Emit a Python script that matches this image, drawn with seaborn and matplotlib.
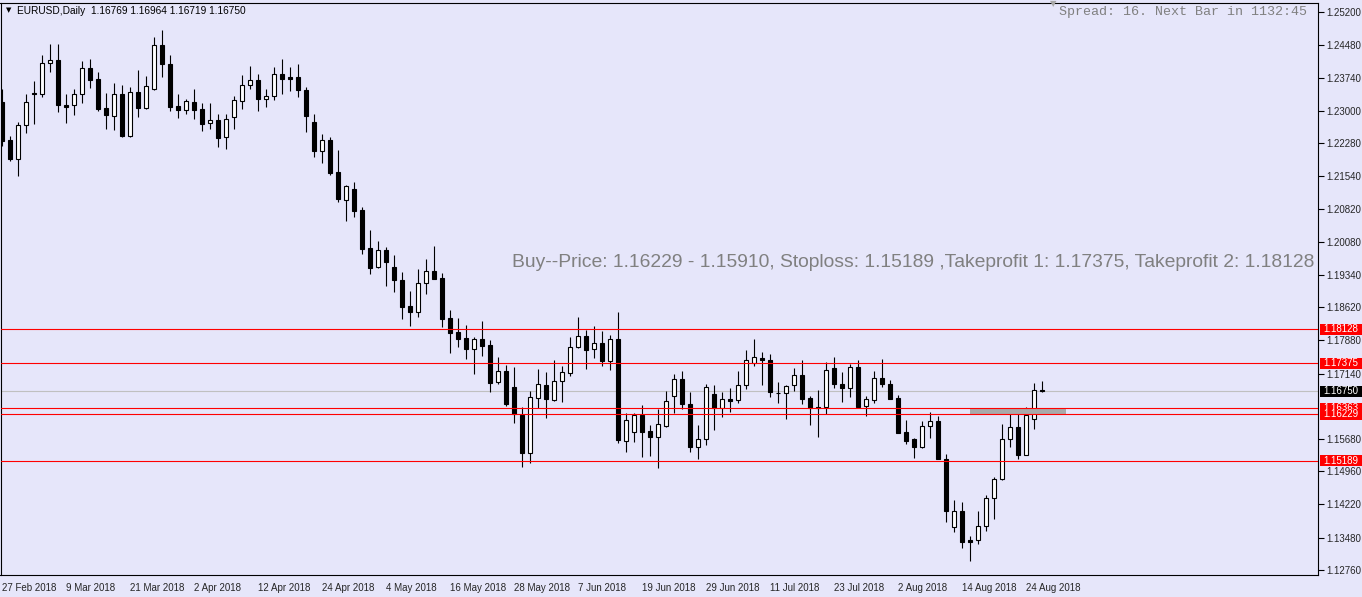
import numpy as np
import pandas as pd
import matplotlib
matplotlib.use("Agg")
from matplotlib import pyplot as plt
from matplotlib.patches import Rectangle
import matplotlib.transforms as mtransforms
import seaborn as sns

# EURUSD daily candles, 27 Feb 2018 - 28 Aug 2018
dates = pd.bdate_range("2018-02-27", "2018-08-28")

opens = [1.23208, 1.22353, 1.21936, 1.22681, 1.23402, 1.23373, 1.24065, 1.24132, 1.23128, 1.23128,
         1.23380, 1.23954, 1.23708, 1.23061, 1.22896, 1.23373, 1.22449, 1.23418, 1.23074, 1.23485,
         1.24467, 1.24043, 1.23105, 1.23016, 1.23201, 1.23038, 1.22726, 1.22800, 1.22414, 1.22860,
         1.23217, 1.23574, 1.23686, 1.23275, 1.23329, 1.23820, 1.23753, 1.23753, 1.23469, 1.22755,
         1.22103, 1.22353, 1.21639, 1.21021, 1.21260, 1.20791, 1.19943, 1.19512, 1.19891, 1.19512,
         1.19228, 1.18641, 1.18508, 1.19155, 1.19423, 1.19266, 1.18374, 1.18068, 1.17941, 1.17695,
         1.17905, 1.17778, 1.16945, 1.17197, 1.16834, 1.16215, 1.15374, 1.16601, 1.16878, 1.16543,
         1.16967, 1.17146, 1.17726, 1.17972, 1.17682, 1.17816, 1.17427, 1.17905, 1.15628, 1.15843,
         1.16209, 1.15851, 1.15718, 1.15963, 1.16633, 1.17012, 1.16454, 1.15494, 1.15673, 1.16677,
         1.16365, 1.16566, 1.16543, 1.16878, 1.17369, 1.17487, 1.17436, 1.16713, 1.16706, 1.16878,
         1.17101, 1.16588, 1.16387, 1.16387, 1.17257, 1.16900, 1.16811, 1.17280, 1.16409, 1.16543,
         1.17034, 1.16900, 1.16588, 1.15829, 1.15680, 1.15508, 1.15963, 1.16075, 1.15226, 1.13709,
         1.14073, 1.13425, 1.13419, 1.13731, 1.14356, 1.14780, 1.15673, 1.15941, 1.15329, 1.16133,
         1.16769]

highs = [1.23492, 1.22443, 1.22755, 1.23380, 1.23670, 1.24250, 1.24496, 1.24496, 1.23380, 1.23492,
         1.24110, 1.24154, 1.23864, 1.23402, 1.23625, 1.23574, 1.23530, 1.23909, 1.23775, 1.24645,
         1.24808, 1.24244, 1.23373, 1.23275, 1.23485, 1.23172, 1.23172, 1.22927, 1.22927, 1.23335,
         1.23804, 1.24005, 1.23826, 1.23485, 1.23989, 1.24154, 1.23989, 1.24050, 1.23543, 1.22929,
         1.22483, 1.22414, 1.22130, 1.21342, 1.21416, 1.20851, 1.20344, 1.20099, 1.19958, 1.19786,
         1.19407, 1.18983, 1.19467, 1.19690, 1.19987, 1.19378, 1.18559, 1.18374, 1.18224, 1.17963,
         1.18313, 1.17889, 1.17510, 1.17331, 1.17287, 1.16394, 1.16751, 1.17242, 1.17175, 1.17443,
         1.17309, 1.17963, 1.18403, 1.18119, 1.18202, 1.18083, 1.18008, 1.18514, 1.16253, 1.16253,
         1.16432, 1.15985, 1.16342, 1.16758, 1.17130, 1.17204, 1.16729, 1.15985, 1.16907, 1.16885,
         1.16729, 1.16811, 1.17197, 1.17659, 1.17912, 1.17621, 1.17577, 1.16958, 1.16878, 1.17257,
         1.17436, 1.16639, 1.16767, 1.17392, 1.17510, 1.17168, 1.17360, 1.17436, 1.16633, 1.17197,
         1.17465, 1.16990, 1.16662, 1.16104, 1.15695, 1.16081, 1.16276, 1.16193, 1.15338, 1.14311,
         1.14273, 1.13515, 1.14066, 1.14430, 1.14838, 1.16014, 1.16231, 1.16238, 1.16387, 1.16923,
         1.16964]

lows = [1.22219, 1.21891, 1.21550, 1.22516, 1.22704, 1.23306, 1.23878, 1.22985, 1.22739, 1.22911,
        1.23172, 1.23507, 1.23007, 1.22605, 1.22576, 1.22414, 1.22427, 1.22873, 1.23038, 1.23480,
        1.23753, 1.23007, 1.22851, 1.22927, 1.22829, 1.22561, 1.22592, 1.22204, 1.22159, 1.22605,
        1.23052, 1.23492, 1.23007, 1.23083, 1.23253, 1.23387, 1.23440, 1.23306, 1.22521, 1.21981,
        1.21829, 1.21583, 1.20976, 1.20552, 1.20641, 1.19815, 1.19369, 1.19490, 1.19101, 1.18967,
        1.18365, 1.18208, 1.18409, 1.18909, 1.19250, 1.18186, 1.17606, 1.17740, 1.17465, 1.17137,
        1.17539, 1.16735, 1.16900, 1.16416, 1.16043, 1.15061, 1.15150, 1.16378, 1.16155, 1.16535,
        1.16512, 1.17092, 1.17720, 1.17249, 1.17494, 1.17316, 1.17226, 1.15597, 1.15396, 1.15619,
        1.15285, 1.15307, 1.15039, 1.15954, 1.16267, 1.16342, 1.15383, 1.15240, 1.15552, 1.15880,
        1.16177, 1.16289, 1.16476, 1.16789, 1.17316, 1.16891, 1.16624, 1.16476, 1.16119, 1.16744,
        1.16467, 1.15999, 1.15718, 1.16238, 1.16825, 1.16512, 1.16624, 1.16387, 1.16186, 1.16476,
        1.16834, 1.16566, 1.15807, 1.15579, 1.15262, 1.15472, 1.15709, 1.15226, 1.13834, 1.13610,
        1.13253, 1.12963, 1.13329, 1.13633, 1.13901, 1.14775, 1.15508, 1.15240, 1.15316, 1.15903,
        1.16719]

closes = [1.22338, 1.21936, 1.22681, 1.23201, 1.23373, 1.24065, 1.24132, 1.23128, 1.23097, 1.23380,
          1.23954, 1.23692, 1.23052, 1.22918, 1.23373, 1.22449, 1.23418, 1.23074, 1.23552, 1.24467,
          1.24043, 1.23097, 1.23030, 1.23217, 1.23030, 1.22717, 1.22800, 1.22405, 1.22829, 1.23239,
          1.23574, 1.23686, 1.23275, 1.23329, 1.23820, 1.23721, 1.23721, 1.23476, 1.22896, 1.22101,
          1.22353, 1.21617, 1.21043, 1.21320, 1.20775, 1.19927, 1.19503, 1.19891, 1.19624, 1.19222,
          1.18633, 1.18508, 1.19155, 1.19423, 1.19257, 1.18369, 1.18052, 1.17918, 1.17695, 1.17905,
          1.17762, 1.16936, 1.17197, 1.16461, 1.16238, 1.15374, 1.16617, 1.16900, 1.16579, 1.16967,
          1.17175, 1.17726, 1.17972, 1.17673, 1.17816, 1.17427, 1.17905, 1.15664, 1.16097, 1.16209,
          1.15843, 1.15713, 1.16008, 1.16521, 1.17012, 1.16454, 1.15508, 1.15673, 1.16834, 1.16365,
          1.16566, 1.16534, 1.16878, 1.17436, 1.17503, 1.17436, 1.16722, 1.16700, 1.16856, 1.17101,
          1.16579, 1.16371, 1.16371, 1.17213, 1.16900, 1.16825, 1.17280, 1.16400, 1.16566, 1.17034,
          1.16900, 1.16579, 1.15820, 1.15646, 1.15508, 1.15963, 1.16075, 1.15240, 1.14079, 1.14073,
          1.13387, 1.13387, 1.13738, 1.14363, 1.14787, 1.15673, 1.15941, 1.15329, 1.16209, 1.16767,
          1.16750]

date_labels = ["27 Feb 2018", "9 Mar 2018", "21 Mar 2018", "2 Apr 2018", "12 Apr 2018",
               "24 Apr 2018", "4 May 2018", "16 May 2018", "28 May 2018", "7 Jun 2018",
               "19 Jun 2018", "29 Jun 2018", "11 Jul 2018", "23 Jul 2018", "2 Aug 2018",
               "14 Aug 2018", "24 Aug 2018"]
price_ticks = [1.25200, 1.24480, 1.23740, 1.23000, 1.22280, 1.21540, 1.20820, 1.20080, 1.19340,
               1.18620, 1.17880, 1.17140, 1.15680, 1.14960, 1.14220, 1.13480, 1.12760]

# trade levels drawn on the chart
level_prices = [1.18128, 1.17375, 1.16363, 1.16229, 1.15189]
bid_price = 1.16750
zone_low, zone_high = 1.16231, 1.16349
zone_from, zone_to = 121, 133

df = pd.DataFrame({"date": dates, "open": opens, "high": highs, "low": lows, "close": closes})
df["x"] = np.arange(len(df))
df["up"] = df["close"] >= df["open"]

BG = "#E6E6FA"
sns.set_theme(style="white", rc={"axes.facecolor": BG, "figure.facecolor": BG,
                                 "axes.edgecolor": "black", "axes.linewidth": 0.8})
plt.rcParams["font.family"] = ["Liberation Sans", "DejaVu Sans"]

W, H = 1362, 597
fig = plt.figure(figsize=(W / 100, H / 100), dpi=100)
ax = fig.add_axes([0.5 / W, 22 / H, 1317.5 / W, 572 / H])

# bid line behind everything
ax.axhline(bid_price, color="#C0C0C0", lw=0.8, zorder=1)

# wicks and bodies
ax.vlines(df["x"], df["low"], df["high"], color="black", lw=0.8, zorder=2)
body_bottom = df[["open", "close"]].min(axis=1)
body_height = (df["close"] - df["open"]).abs()
ax.bar(df["x"], body_height, bottom=body_bottom, width=0.56,
       color=np.where(df["up"], "white", "black"), edgecolor="black", linewidth=0.8, zorder=3)

# zone and levels
ax.fill_between([zone_from, zone_to], zone_low, zone_high, color="#A9A9A9", lw=0, zorder=4)
for lv in level_prices:
    ax.axhline(lv, color="red", lw=0.8, zorder=5)

ax.set_xlim(-0.19, 164.5)
ax.set_ylim(1.12644, 1.25411)

ax.set_xticks(df["x"][::8])
ax.set_xticklabels(date_labels, fontsize=7, ha="left")
ax.yaxis.tick_right()
ax.set_yticks(price_ticks)
ax.set_yticklabels([f"{t:.5f}" for t in price_ticks], fontsize=7)
ax.tick_params(axis="both", direction="out", length=4, width=0.8, color="black", pad=2)
ax.tick_params(axis="x", pad=1.5)
for s in ax.spines.values():
    s.set_color("black")
    s.set_linewidth(0.8)

# price labels in the right scale, each one stacked over the previous
trans = mtransforms.blended_transform_factory(ax.transAxes, ax.transData)
box_h = 11 * (1.25411 - 1.12644) / 572
x0, x1 = 1319.5 / 1317.5, 1361.5 / 1317.5


def price_tag(price, face, z):
    ax.add_patch(Rectangle((x0, price - box_h / 2), x1 - x0, box_h, transform=trans,
                           facecolor=face, edgecolor="none", clip_on=False, zorder=z))
    ax.text((x0 + x1) / 2, price, f"{price:.5f}", transform=trans, ha="center", va="center",
            color="white", fontsize=7, clip_on=False, zorder=z + 0.5)


for i, lv in enumerate(level_prices):
    price_tag(lv, "red", 10 + i)
price_tag(bid_price, "black", 20)

# texts
fig.text(6 / W, 1 - 10.5 / H, "▼", family="DejaVu Sans", fontsize=5, va="center", color="black")
fig.text(17 / W, 1 - 10.5 / H, "EURUSD,Daily  1.16769 1.16964 1.16719 1.16750",
         fontsize=7.3, va="center", color="black")
fig.text(1307 / W, 1 - 12 / H, "Spread: 16. Next Bar in 1132:45", family="Liberation Mono",
         fontsize=9.6, ha="right", va="center", color="#808080")
fig.text(1053 / W, 1 - 4 / H, "▼", family="DejaVu Sans", fontsize=6, ha="center", va="center",
         color="#A8A8A8")
fig.text(1314 / W, 1 - 262 / H,
         "Buy--Price: 1.16229 - 1.15910, Stoploss: 1.15189 ,Takeprofit 1: 1.17375, Takeprofit 2: 1.18128",
         fontsize=13.9, ha="right", va="center", color="#808080")

fig.savefig("out.png", dpi=100, facecolor=BG)
